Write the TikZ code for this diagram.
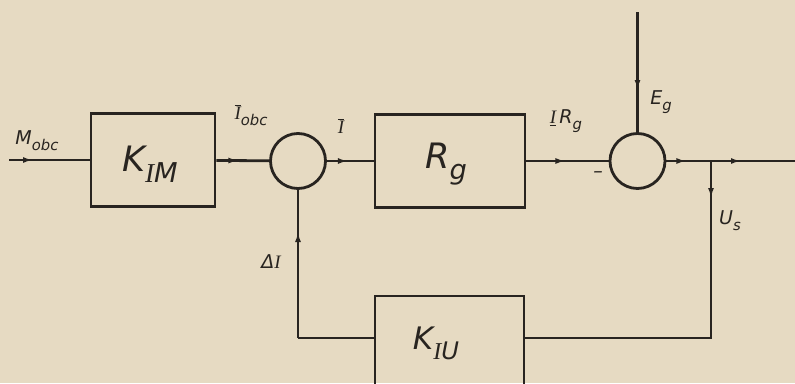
\documentclass[tikz,border=0pt]{standalone}
\usepackage{graphicx}
\usepackage{fontspec}
\setmainfont{DejaVu Sans}
\newfontfamily\serI{Liberation Serif}
\usetikzlibrary{arrows.meta,decorations.markings}
\definecolor{paper}{RGB}{230,218,194}
\definecolor{ink}{RGB}{40,36,32}
\newcommand{\lsub}[1]{\raisebox{-0.32em}{\scalebox{0.78}{#1}}}
\newcommand{\Iser}{{\serI\itshape I}}
\begin{document}
\begin{tikzpicture}[x=1pt,y=-1pt, text=ink,
  wire/.style={draw=ink, line width=2.8pt},
  blk/.style={draw=ink, line width=2.8pt, inner sep=0pt},
  sumc/.style={draw=ink, circle, minimum size=55pt, inner sep=0pt, line width=2.8pt},
  lbl/.style={font=\fontsize{19}{20}\selectfont\itshape, inner sep=0pt},
  big/.style={font=\fontsize{35}{37}\selectfont\itshape, inner sep=0pt},
  tip/.style={-{Latex[length=10pt,width=6pt]}},
  arr/.style={wire, postaction={decorate,decoration={markings,
     mark=at position #1 with {\arrow{Latex[length=10pt,width=6pt]}}}}}
]
\useasboundingbox (0,0) rectangle (795,383);
\fill[paper] (0,0) rectangle (795,383);

% blocks
\node[blk, minimum width=124pt, minimum height=93pt] (kim) at (153,160) {};
\node[sumc] (c1) at (298,161) {};
\node[blk, minimum width=150pt, minimum height=93pt] (rg) at (450,161) {};
\node[sumc] (c2) at (637.5,161) {};
\node[blk, minimum width=149pt, minimum height=100pt] (kiu) at (449.5,346) {};

% block texts
\node[big] (tkim) at (150,164) {K\lsub{\Iser M}};
\node[big] (trg) at (446,164) {R\lsub{g}};
\node[big, font=\fontsize{31}{33}\selectfont\itshape] (tkiu) at (436,343) {K\lsub{\Iser U}};

% coordinates
\coordinate (in) at (9,160);
\coordinate (top) at (637.5,12);
\coordinate (j) at (711,161);
\coordinate (out) at (795,161);
\coordinate (jb) at (711,338);
\coordinate (fl) at (298,338);

% connectors
\draw[arr=24pt] (in) -- (kim);
\draw[arr=22pt] (kim) -- (c1);
\draw[arr=21pt] (c1) -- (rg);
\draw[arr=39pt] (rg) -- (c2);
\draw[arr=78pt] (top) -- (c2);
\draw[arr=20pt] (c2) -- (j);
\draw[arr=30pt] (j) -- (out);
\draw[arr=37pt] (j) -- (jb) -- (kiu.east |- jb);
\draw[wire] (kiu.west |- fl) -- (fl);
\draw[arr=106pt] (fl) -- (c1);

% labels
\node[lbl] (lm) at (37,141) {M\lsub{obc}};
\node[lbl] (liobc) at (251,115) {$\overline{\hbox{\Iser}}$\lsub{obc}};
\node[lbl] (li) at (341,126) {$\overline{\hbox{\Iser}}$};
\node[lbl] (lirg) at (566,121) {\underline{\Iser}\,R\lsub{g}};
\node[lbl] (lminus) at (598,175) {\textendash};
\node[lbl] (leg) at (661,102) {E\lsub{g}};
\node[lbl] (lus) at (730,221) {U\lsub{s}};
\node[lbl] (ldi) at (271,262) {Δ\Iser};
\end{tikzpicture}
\end{document}
